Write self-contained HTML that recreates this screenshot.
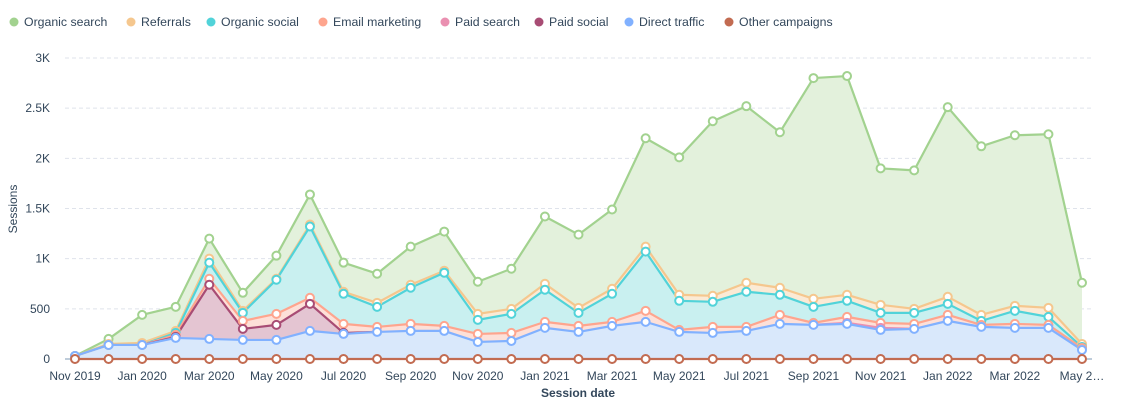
<!DOCTYPE html>
<html><head><meta charset="utf-8">
<style>
body{margin:0;background:#fff;font-family:"Liberation Sans",sans-serif;}
svg{display:block}
</style></head>
<body>
<svg id="chart" width="1133" height="408" xmlns="http://www.w3.org/2000/svg"></svg>
<script>
const categories=["Nov 2019","Dec 2019","Jan 2020","Feb 2020","Mar 2020","Apr 2020","May 2020","Jun 2020","Jul 2020","Aug 2020","Sep 2020","Oct 2020","Nov 2020","Dec 2020","Jan 2021","Feb 2021","Mar 2021","Apr 2021","May 2021","Jun 2021","Jul 2021","Aug 2021","Sep 2021","Oct 2021","Nov 2021","Dec 2021","Jan 2022","Feb 2022","Mar 2022","Apr 2022","May 2022"];
const otherCampaigns=[0,0,0,0,0,0,0,0,0,0,0,0,0,0,0,0,0,0,0,0,0,0,0,0,0,0,0,0,0,0,0];
const directTraffic=[30,140,140,210,200,190,190,280,250,270,280,280,170,180,310,270,330,370,270,260,280,350,340,350,290,300,380,320,310,310,90];
const paidSocial=[0,0,0,10,540,110,150,270,10,0,0,0,0,0,0,0,0,0,0,0,0,0,0,0,0,0,0,0,0,0,0];
const paidSearch=[0,0,0,0,0,0,0,0,0,0,0,0,0,0,0,0,0,0,0,0,0,0,0,10,20,0,0,0,0,0,0];
const emailMarketing=[0,0,0,20,60,80,110,60,90,50,70,50,80,80,60,60,40,110,20,60,40,90,20,60,50,50,60,20,40,30,20];
const organicSocial=[0,0,0,20,160,80,340,710,300,200,360,530,140,190,320,130,280,590,290,250,350,200,160,160,100,110,110,40,130,80,10];
const referrals=[0,10,20,20,40,20,10,20,20,40,30,20,60,50,60,50,50,50,60,60,90,70,80,60,80,40,70,60,50,90,30];
const organicSearch=[0,50,280,240,200,180,230,300,290,290,380,390,320,400,670,730,790,1080,1370,1740,1760,1550,2200,2180,1360,1380,1890,1680,1700,1730,610];
const yTicks=[0,500,1000,1500,2000,2500,3000];
const yTickLabels=["0","500","1K","1.5K","2K","2.5K","3K"];
const xTickLabels=["Nov 2019","Jan 2020","Mar 2020","May 2020","Jul 2020","Sep 2020","Nov 2020","Jan 2021","Mar 2021","May 2021","Jul 2021","Sep 2021","Nov 2021","Jan 2022","Mar 2022","May 2…"];

const series=[
 {name:"Other campaigns",key:"other-campaigns",data:otherCampaigns,line:"#c26b51",fill:"none",sparse:false},
 {name:"Direct traffic",key:"direct-traffic",data:directTraffic,line:"#81b1ff",fill:"#d9e8fb",sparse:false},
 {name:"Paid social",key:"paid-social",data:paidSocial,line:"#a84c74",fill:"#e4c5d2",sparse:true},
 {name:"Paid search",key:"paid-search",data:paidSearch,line:"#ea90b1",fill:"#f8d8e4",sparse:true},
 {name:"Email marketing",key:"email-marketing",data:emailMarketing,line:"#fea58e",fill:"#fde0d8",sparse:false},
 {name:"Organic social",key:"organic-social",data:organicSocial,line:"#51d3d9",fill:"#c9f0f0",sparse:false},
 {name:"Referrals",key:"referrals",data:referrals,line:"#f5c78e",fill:"#fbead5",sparse:false},
 {name:"Organic search",key:"organic-search",data:organicSearch,line:"#a2d28f",fill:"#e3f1dc",sparse:false}
];
const NS="http://www.w3.org/2000/svg";
const svg=document.getElementById("chart");
const X0=75,X1=1082,Y0=359,Y1=58,YMAX=3000;
const xs=i=>X0+i*(X1-X0)/(categories.length-1);
const ys=v=>Y0-v/YMAX*(Y0-Y1);
function mk(t,a,p){const e=document.createElementNS(NS,t);for(const k in a)e.setAttribute(k,a[k]);(p||svg).appendChild(e);return e;}

yTicks.forEach((t,i)=>{
 const g=mk("line",{x1:65,x2:1092,y1:ys(t),y2:ys(t),stroke:i==0?"#7c98b6":"#dfe3eb","stroke-dasharray":i==0?"":"4,3","stroke-width":1});
 
 
 const tx=mk("text",{x:50,y:ys(t)+4,"text-anchor":"end","font-size":12,fill:"#33475b"});
 tx.textContent=yTickLabels[i];
 
 
});
xTickLabels.forEach((l,j)=>{
 const i=j*2;
 const tk=mk("line",{x1:xs(i),x2:xs(i),y1:359,y2:364,stroke:"#7c98b6"});
 
 
 const tx=mk("text",{x:xs(i),y:380,"text-anchor":"middle","font-size":12,fill:"#33475b"});
 tx.textContent=l;
 
 
});
let base=categories.map(()=>0);
const stacks=series.map(s=>{const lo=base.slice();const hi=base.map((b,i)=>b+s.data[i]);base=hi;return {lo,hi};});
series.forEach((s,k)=>{
 if(s.fill==="none")return;
 const {lo,hi}=stacks[k];
 let d=hi.map((v,i)=>(i?"L":"M")+xs(i)+","+ys(v)).join("");
 for(let i=lo.length-1;i>=0;i--)d+="L"+xs(i)+","+ys(lo[i]);
 const p=mk("path",{d:d+"Z",fill:s.fill,stroke:"none"});
 
 
});
for(let k=series.length-1;k>=0;k--){
 const s=series[k],hi=stacks[k].hi;
 let d="",pen=false;
 hi.forEach((v,i)=>{
  const on=!s.sparse||s.data[i]>0||(i>0&&s.data[i-1]>0)||(i<hi.length-1&&s.data[i+1]>0);
  if(on){d+=(pen?"L":"M")+xs(i)+","+ys(v);pen=true;}else pen=false;
 });
 const p=mk("path",{d:d,fill:"none",stroke:s.line,"stroke-width":2.2,"stroke-linejoin":"round"});
 
 
}
for(let k=series.length-1;k>=0;k--){
 const s=series[k],hi=stacks[k].hi;
 hi.forEach((v,i)=>{
  if(s.sparse&&s.data[i]<=0)return;
  const c=mk("circle",{cx:xs(i),cy:ys(v),r:4,fill:"#fff",stroke:s.line,"stroke-width":2});
  
  
 });
}
const yt=mk("text",{x:0,y:0,transform:"translate(17,209) rotate(-90)","text-anchor":"middle","font-size":12,fill:"#33475b"});
yt.textContent="Sessions";


const xt=mk("text",{x:578,y:397,"text-anchor":"middle","font-size":12,"font-weight":"bold",fill:"#33475b"});
xt.textContent="Session date";


const legendX=[14,131,211,323,445,539,629,729];
const legendOrder=[7,6,5,4,3,2,1,0];
const lg=mk("g",{});


legendOrder.forEach((k,j)=>{
 const s=series[k];
 const lx=legendX[j];
 const g=mk("g",{},lg);
 
 
 mk("circle",{cx:lx,cy:22,r:4.5,fill:s.line},g);
 const t=mk("text",{x:lx+10,y:26,"font-size":12.3,fill:"#33475b"},g);
 t.textContent=s.name;
});
</script>
</body></html>
